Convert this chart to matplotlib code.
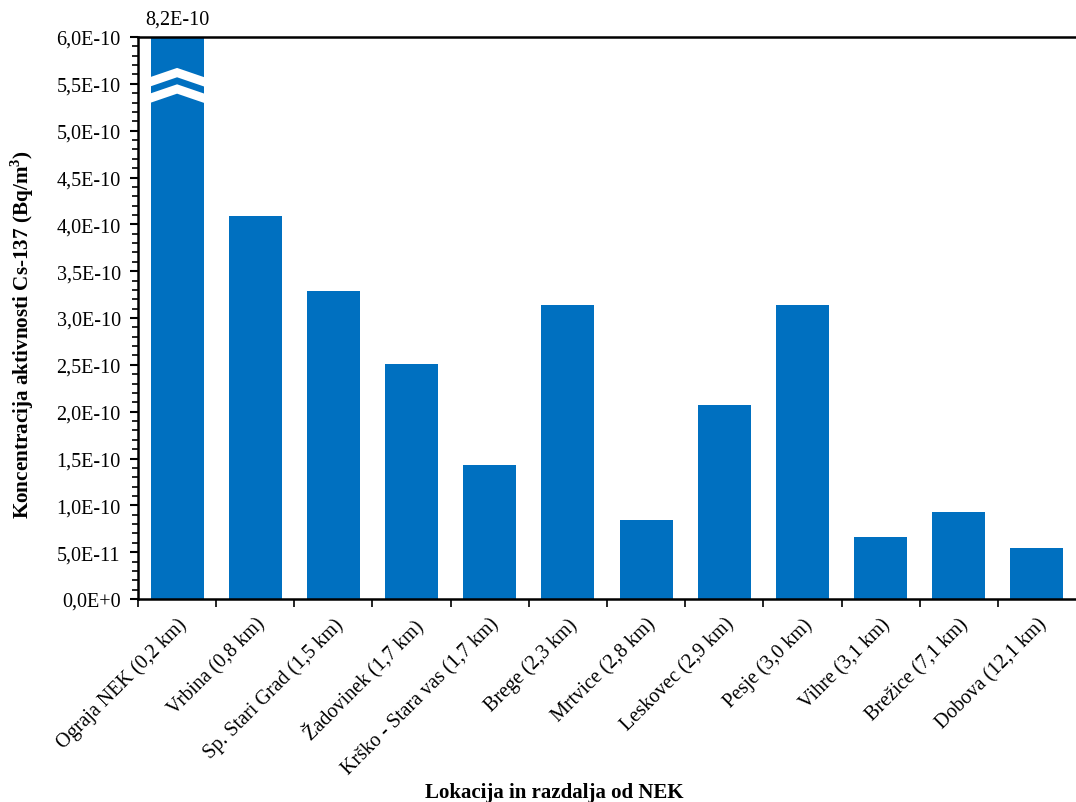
import matplotlib
matplotlib.use("Agg")
import matplotlib.pyplot as plt
from matplotlib.patches import Polygon
from matplotlib.ticker import MultipleLocator, FixedLocator, FuncFormatter, NullFormatter
import numpy as np

# data
locations = ['Ograja NEK (0,2 km)', 'Vrbina (0,8 km)', 'Sp. Stari Grad (1,5 km)',
             'Žadovinek (1,7 km)', 'Krško - Stara vas (1,7 km)', 'Brege (2,3 km)',
             'Mrtvice (2,8 km)', 'Leskovec (2,9 km)', 'Pesje (3,0 km)',
             'Vihre (3,1 km)', 'Brežice (7,1 km)', 'Dobova (12,1 km)']
cs137 = [8.2e-10, 4.09e-10, 3.29e-10, 2.51e-10, 1.43e-10, 3.14e-10,
         0.84e-10, 2.07e-10, 3.14e-10, 0.66e-10, 0.93e-10, 0.545e-10]
ymax = 6.0e-10

plt.rcParams['font.family'] = ['Liberation Serif', 'DejaVu Serif']
plt.rcParams['font.size'] = 14.5

def sci_comma(v, pos=None):
  # excel style: 5,0E-11 / 0,0E+0
  if v == 0:
    return '0,0E+0'
  e = int(np.floor(np.log10(abs(v)) + 1e-9))
  m = v / 10**e
  return ('%.1fE%+d' % (m, e)).replace('.', ',')

fig = plt.figure(figsize=(10.76, 8.03), dpi=100)
ax = fig.add_axes([138/1076, 203/803, 938/1076, 562/803])

x = np.arange(len(locations))
barW = 0.68
ax.bar(x, np.minimum(cs137, ymax), width=barW, color='#0070C0', zorder=2)

# break mark on the clipped bar
i = 0
x0, x1 = x[i] - barW/2, x[i] + barW/2
for lo in (5.47e-10, 5.295e-10):
  rise, th = 0.1e-10, 0.1e-10
  pts = [(x0-0.01, lo), (x[i], lo+rise), (x1+0.01, lo), (x1+0.01, lo+th),
         (x[i], lo+rise+th), (x0-0.01, lo+th)]
  ax.add_patch(Polygon(pts, closed=True, facecolor='white', edgecolor='none', zorder=3))
ax.annotate(sci_comma(cs137[i]), xy=(x[i], ymax), xytext=(0, 13),
            textcoords='offset points', ha='center', va='center', fontsize=14.5)

ax.set_xlim(-0.5, len(locations) - 0.5)
ax.set_ylim(0, ymax)
ax.yaxis.set_major_locator(MultipleLocator(0.5e-10))
ax.yaxis.set_minor_locator(MultipleLocator(0.1e-10))
ax.yaxis.set_major_formatter(FuncFormatter(sci_comma))
ax.yaxis.get_offset_text().set_visible(False)
ax.tick_params(axis='y', which='major', length=6, width=1.5, direction='out', pad=6.5)
ax.tick_params(axis='y', which='minor', length=4, width=1.2, direction='out')

# category labels at bar centres, tick marks between categories
ax.xaxis.set_major_locator(FixedLocator(x - 0.5))
ax.xaxis.set_major_formatter(NullFormatter())
ax.xaxis.set_minor_locator(FixedLocator(x))
ax.set_xticklabels(locations, minor=True, rotation=45, ha='right', rotation_mode='anchor')
ax.tick_params(axis='x', which='major', length=6, width=1.2, direction='out')
ax.tick_params(axis='x', which='minor', length=0, pad=11)

for s in ('left', 'bottom', 'top'):
  ax.spines[s].set_linewidth(1.8)
ax.spines['right'].set_visible(False)

fig.text(22/1076, 1 - 335/803, 'Koncentracija aktivnosti Cs-137 (Bq/m$^\\mathregular{3}$)',
         rotation=90, ha='center', va='center', fontsize=15.2, fontweight='bold')
fig.text(554/1076, 1 - 793/803, 'Lokacija in razdalja od NEK',
         ha='center', va='center', fontsize=15, fontweight='bold')

fig.savefig('out.png', dpi=100)
